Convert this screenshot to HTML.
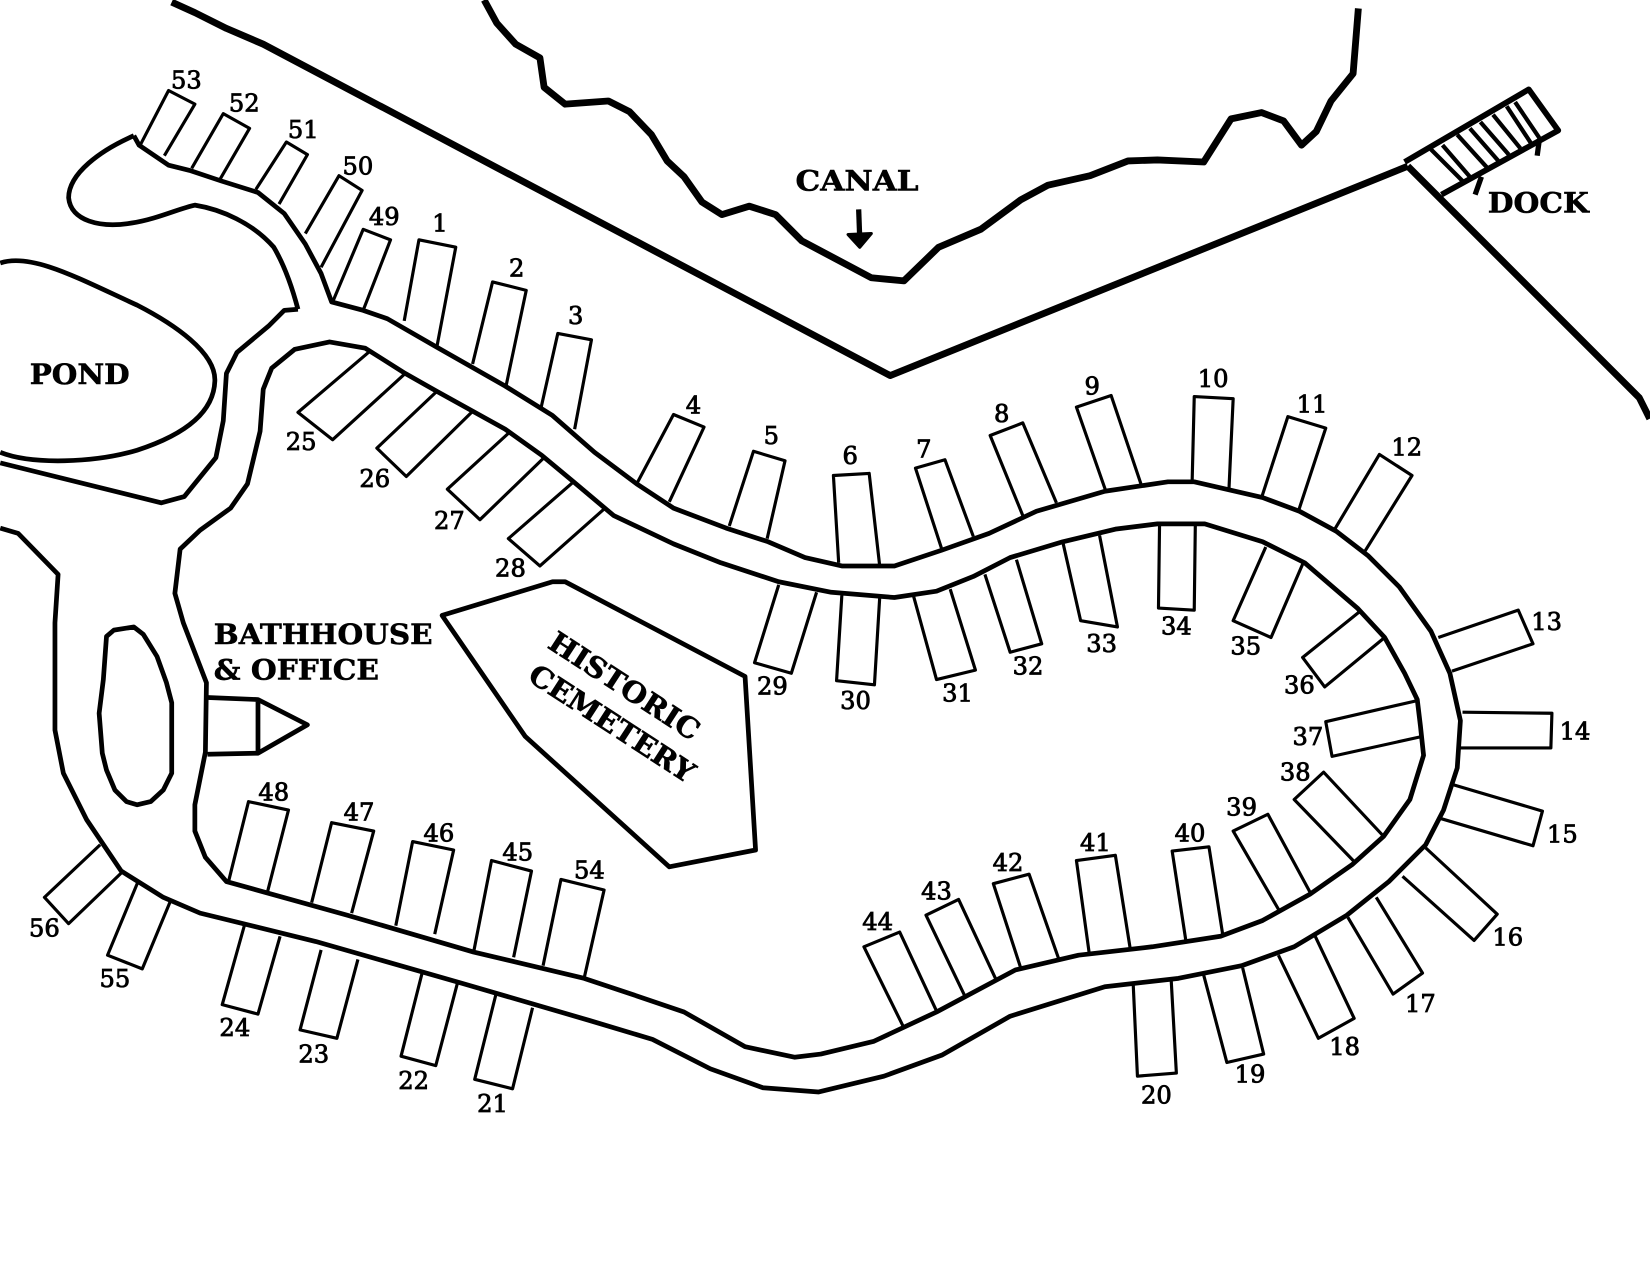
<!DOCTYPE html>
<html><head><meta charset="utf-8"><style>
html,body{margin:0;padding:0;background:#fff;width:1650px;height:1275px;overflow:hidden}
svg{display:block}
text{font-family:"DejaVu Serif","Liberation Serif",serif;fill:#000}
.n{font-size:23px;font-weight:400;text-anchor:middle;stroke:#000;stroke-width:.8px}
.b{font-size:27px;font-weight:700;stroke:#000;stroke-width:.5px}
</style></head><body>
<svg width="1650" height="1275" viewBox="0 0 1568 1212" xmlns="http://www.w3.org/2000/svg">
<g fill="none" stroke="#000" stroke-linejoin="round" stroke-linecap="butt">
<g stroke-width="6.5">
<path d="M163 2L185 12L215 27L250 42L846 357L1338 158"/>
<path d="M1338 158L1558 378L1568 398"/>
<path d="M460 0L472 22L490 42L513 55L517 83L537 99L578 96L598 106L619 128L634 153L650 168L667 192L686 204L712 196L737 204L762 229L828 264L859 267L892 235L932 218L970 190L996 176L1036 167L1072 153L1100 152L1144 154L1170 113L1199 107L1220 115L1237 138L1251 125L1265 96L1286 70L1291 8"/>
</g>
<path d="M1335 154L1453 85L1481 124L1370 185" stroke-width="5.5"/>
<path d="M1360 142L1391 173M1371 138L1397 168M1385 128L1414 160M1397 122L1425 154M1407 116L1434 147M1419 109L1445 141M1432 101L1455 136M1440 97L1463 131" stroke-width="4"/>
<path d="M1408 168L1402 185M1463 133L1461 148" stroke-width="5"/>
<path d="M816 199L817 226" stroke-width="5"/>
<path d="M806 223L828 222L817 235Z" fill="#000" stroke-width="3"/>
<g stroke-width="4.5">
<path d="M127 129L132 138L160 157L180 162L210 172L245 183L270 203L290 232L305 260L315 287L345 295L368 303L415 330L480 367L525 395L565 430L605 460L640 483L690 502L730 515L765 530L800 538L850 538L895 523L940 507L985 486L1050 467L1110 458L1135 458L1200 473L1235 486L1270 505L1300 528L1330 558L1360 600L1378 640L1388 685L1385 730L1372 770L1355 803L1320 838L1280 870L1230 900L1180 918L1120 930L1050 938L960 966L895 1003L840 1023L778 1038L725 1034L675 1016L620 988L560 970L440 935L300 895L190 868L155 853L115 828L82 779L60 735L52 694L52 592L55 546L17 507L0 502"/>
<path d="M283 294L270 295L255 310L225 335L215 355L212 400L205 435L175 472L153 478L0 440"/>
<path d="M127 129C95 143 65 165 65 188C67 210 95 217 125 212C150 208 170 198 185 195C210 199 240 212 260 235C270 252 278 275 283 294"/>
<path d="M258 350L280 332L313 325L347 331L385 355L415 372L480 408L515 433L545 458L583 490L640 517L685 535L740 553L790 563L850 568L890 562L925 548L960 530L1010 515L1060 503L1100 498L1145 498L1200 515L1240 535L1290 578L1316 606L1335 640L1347 665L1350 690L1353 718L1340 760L1315 795L1285 822L1245 850L1200 875L1160 890L1095 900L1025 908L965 922L890 962L830 990L780 1002L755 1005L708 995L650 962L600 945L555 930L450 905L330 870L215 838L195 815L185 790L185 765L195 715L196 649L174 592L166 564L171 522L190 504L219 483L235 460L247 410L250 370Z"/>
<path d="M101 605L108 599L127 596L136 603L149 624L158 649L163 668L163 735L155 751L143 762L130 765L120 762L109 751L101 732L97 716L94 678L98 646Z"/>
<path d="M0 250C30 240 75 265 130 290C165 308 205 335 204 362C203 395 170 415 130 428C90 440 30 442 0 430"/>
<path d="M197 663L245 665L292 689L245 716L197 717M245 665L245 716"/>
<path d="M420 585L525 553L537 553L708 643L718 808L636 824L499 700Z"/>
</g>
<g stroke-width="3">
<path d="M133 138L160 86L185 99L156 148"/>
<path d="M182 160L212 108L237 122L208 172"/>
<path d="M243 180L272 135L292 147L265 194"/>
<path d="M290 222L322 167L344 181L305 254"/>
<path d="M316 287L345 218L371 228L345 295"/>
<path d="M384 305L398 228L433 235L415 330"/>
<path d="M449 346L468 268L500 276L481 366"/>
<path d="M514 388L530 317L562 323L546 408"/>
<path d="M605 460L640 394L669 406L636 477"/>
<path d="M693 500L716 429L746 438L729 512"/>
<path d="M797 535L792 452L826 450L836 538"/>
<path d="M895 522L870 445L898 437L925 510"/>
<path d="M972 490L941 414L972 402L1004 478"/>
<path d="M1051 467L1023 387L1056 376L1085 462"/>
<path d="M1133 458L1135 377L1172 379L1168 465"/>
<path d="M1199 473L1224 396L1260 407L1234 486"/>
<path d="M1268 504L1311 432L1342 452L1296 526"/>
<path d="M1367 606L1443 580L1457 612L1380 638"/>
<path d="M1390 677L1475 678L1474 711L1387 711"/>
<path d="M1378 745L1466 771L1457 804L1369 778"/>
<path d="M1355 806L1423 869L1401 894L1333 833"/>
<path d="M1308 853L1352 925L1324 945L1281 872"/>
<path d="M1250 890L1287 968L1253 987L1215 908"/>
<path d="M1181 920L1201 1002L1166 1010L1144 927"/>
<path d="M1113 930L1118 1020L1081 1023L1077 936"/>
<path d="M506 958L487 1035L451 1026L471 946"/>
<path d="M435 933L414 1013L381 1004L401 925"/>
<path d="M340 912L320 987L285 979L305 903"/>
<path d="M266 890L245 964L211 955L232 880"/>
<path d="M350 335L283 392L316 418L385 355"/>
<path d="M415 372L358 426L386 453L448 392"/>
<path d="M484 411L425 465L456 494L516 436"/>
<path d="M545 458L483 512L513 538L575 483"/>
<path d="M740 556L717 630L752 640L776 563"/>
<path d="M800 566L795 647L831 651L836 568"/>
<path d="M868 566L890 646L927 637L903 560"/>
<path d="M936 546L960 620L990 612L966 532"/>
<path d="M1010 515L1027 590L1062 596L1045 509"/>
<path d="M1102 500L1101 578L1135 580L1136 500"/>
<path d="M1203 520L1172 590L1208 606L1239 534"/>
<path d="M1294 580L1238 625L1259 653L1316 606"/>
<path d="M1347 666L1260 686L1266 719L1352 700"/>
<path d="M1315 795L1258 734L1230 760L1288 820"/>
<path d="M1245 848L1205 774L1172 790L1216 866"/>
<path d="M1162 888L1149 805L1114 809L1127 894"/>
<path d="M1074 901L1060 813L1023 818L1035 905"/>
<path d="M1006 911L978 831L944 840L970 920"/>
<path d="M946 930L911 855L880 870L917 947"/>
<path d="M890 961L855 886L821 900L858 975"/>
<path d="M488 910L505 828L467 818L450 905"/>
<path d="M413 888L431 808L392 800L376 880"/>
<path d="M334 868L355 790L315 782L296 858"/>
<path d="M254 848L274 770L236 762L217 838"/>
<path d="M555 930L574 846L533 836L516 918"/>
<path d="M131 838L102 908L135 921L162 856"/>
<path d="M95 803L42 853L65 878L117 828"/>
</g>
</g>
<text class="b" x="756" y="181" textLength="117" lengthAdjust="spacingAndGlyphs">CANAL</text>
<text class="b" x="1414" y="202" textLength="96" lengthAdjust="spacingAndGlyphs">DOCK</text>
<text class="b" x="28" y="365" textLength="95" lengthAdjust="spacingAndGlyphs">POND</text>
<text class="b" x="203" y="612" textLength="208" lengthAdjust="spacingAndGlyphs">BATHHOUSE</text>
<text class="b" x="203" y="646" textLength="157" lengthAdjust="spacingAndGlyphs">&amp; OFFICE</text>
<text class="b" transform="translate(519 615) rotate(33)" textLength="165" lengthAdjust="spacingAndGlyphs">HISTORIC</text>
<text class="b" transform="translate(500 646) rotate(33)" textLength="182" lengthAdjust="spacingAndGlyphs">CEMETERY</text>
<text class="n" x="177" y="84">53</text><text class="n" x="232" y="106">52</text><text class="n" x="288" y="131">51</text><text class="n" x="340" y="166">50</text><text class="n" x="365" y="214">49</text>
<text class="n" x="418" y="220">1</text><text class="n" x="491" y="263">2</text><text class="n" x="547" y="308">3</text><text class="n" x="659" y="393">4</text><text class="n" x="733" y="422">5</text><text class="n" x="808" y="441">6</text><text class="n" x="878" y="435">7</text><text class="n" x="952" y="401">8</text><text class="n" x="1038" y="375">9</text><text class="n" x="1153" y="368">10</text><text class="n" x="1247" y="392">11</text><text class="n" x="1337" y="433">12</text><text class="n" x="1470" y="599">13</text><text class="n" x="1497" y="703">14</text><text class="n" x="1485" y="801">15</text><text class="n" x="1433" y="899">16</text><text class="n" x="1350" y="962">17</text><text class="n" x="1278" y="1003">18</text><text class="n" x="1188" y="1029">19</text><text class="n" x="1099" y="1049">20</text><text class="n" x="468" y="1057">21</text><text class="n" x="393" y="1035">22</text><text class="n" x="298" y="1010">23</text><text class="n" x="223" y="985">24</text><text class="n" x="286" y="428">25</text><text class="n" x="356" y="463">26</text><text class="n" x="427" y="503">27</text><text class="n" x="485" y="548">28</text><text class="n" x="734" y="660">29</text><text class="n" x="813" y="674">30</text><text class="n" x="910" y="667">31</text><text class="n" x="977" y="641">32</text><text class="n" x="1047" y="620">33</text><text class="n" x="1118" y="603">34</text><text class="n" x="1184" y="622">35</text><text class="n" x="1235" y="659">36</text><text class="n" x="1243" y="708">37</text><text class="n" x="1231" y="742">38</text><text class="n" x="1180" y="775">39</text><text class="n" x="1131" y="800">40</text><text class="n" x="1041" y="809">41</text><text class="n" x="958" y="828">42</text><text class="n" x="890" y="855">43</text><text class="n" x="834" y="884">44</text><text class="n" x="492" y="818">45</text><text class="n" x="417" y="800">46</text><text class="n" x="341" y="780">47</text><text class="n" x="260" y="761">48</text><text class="n" x="560" y="835">54</text><text class="n" x="109" y="938">55</text><text class="n" x="42" y="890">56</text>
</svg>
</body></html>
